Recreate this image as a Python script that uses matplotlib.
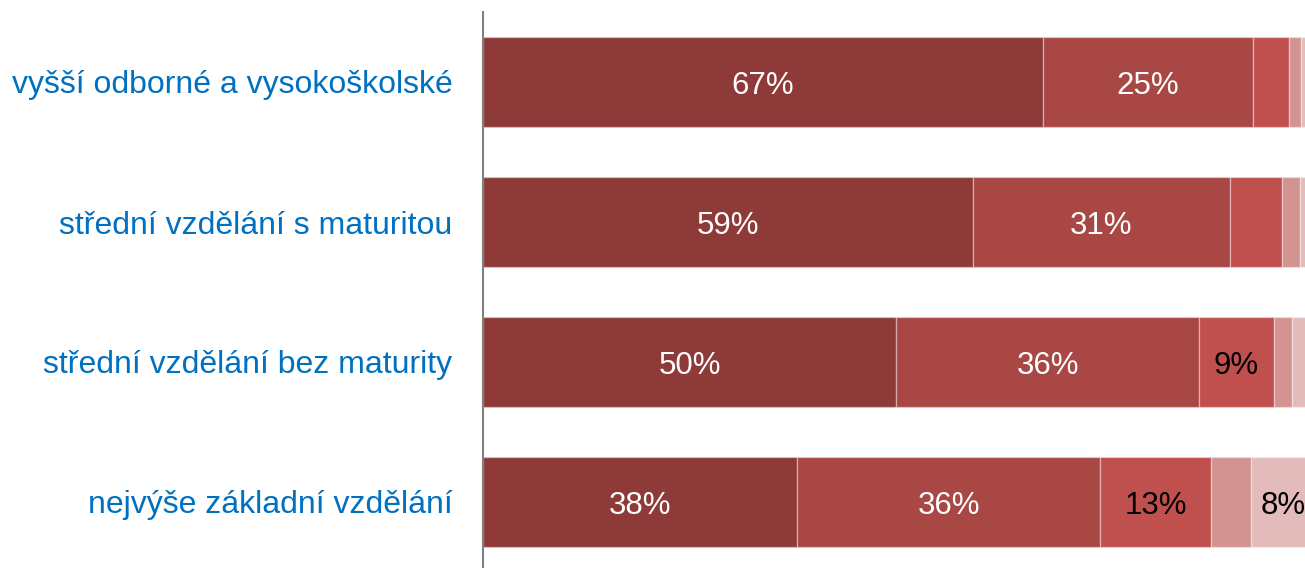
import matplotlib.pyplot as plt

plt.rcParams['font.family'] = ['Liberation Sans', 'DejaVu Sans']

# categories, top to bottom
categories = ['vyšší odborné a vysokoškolské',
              'střední vzdělání s maturitou',
              'střední vzdělání bez maturity',
              'nejvýše základní vzdělání']

# segment shares (%)
seg1 = [67.2, 58.8, 49.6, 37.7]
seg2 = [25.2, 30.9, 36.4, 36.4]
seg3 = [4.4, 6.2, 8.9, 13.3]
seg4 = [1.4, 2.2, 2.2, 4.8]
seg5 = [1.8, 1.9, 2.9, 7.8]

colors = ['#8E3A38', '#A94744', '#C0504D', '#D39391', '#E3BBBB']
text_colors = ['white', 'white', 'black', 'black', 'black']
label_color = '#0070C0'

W, H = 1305, 568
fig = plt.figure(figsize=(W / 100, H / 100), dpi=100)
# axes from x=483 px, 100% lands a bit past the right edge (clipped like the original)
ax = fig.add_axes([483 / W, -4 / H, 833 / W, 560 / H])

ypos = list(range(len(categories)))
left = [0.0] * len(categories)
for vals, col, tcol in zip([seg1, seg2, seg3, seg4, seg5], colors, text_colors):
    ax.barh(ypos, vals, left=left, height=0.64, color=col,
            edgecolor=(1, 1, 1, 0.35), linewidth=1)
    for y, v, l in zip(ypos, vals, left):
        if v >= 7:
            ax.text(l + v / 2, y, f"{round(v)}%", ha='center', va='center_baseline',
                    color=tcol, fontsize=22.5)
    left = [l + v for l, v in zip(left, vals)]

ax.set_xlim(0, 100)
ax.set_ylim(3.5, -0.5)
ax.set_yticks(ypos)
ax.set_yticklabels(categories, fontsize=23, color=label_color)
ax.tick_params(axis='y', length=0, pad=22)
ax.set_xticks([])

for s in ['top', 'right', 'bottom']:
    ax.spines[s].set_visible(False)
ax.spines['left'].set_color('#808080')
ax.spines['left'].set_linewidth(1.5)

fig.savefig('out.png', dpi=100)
